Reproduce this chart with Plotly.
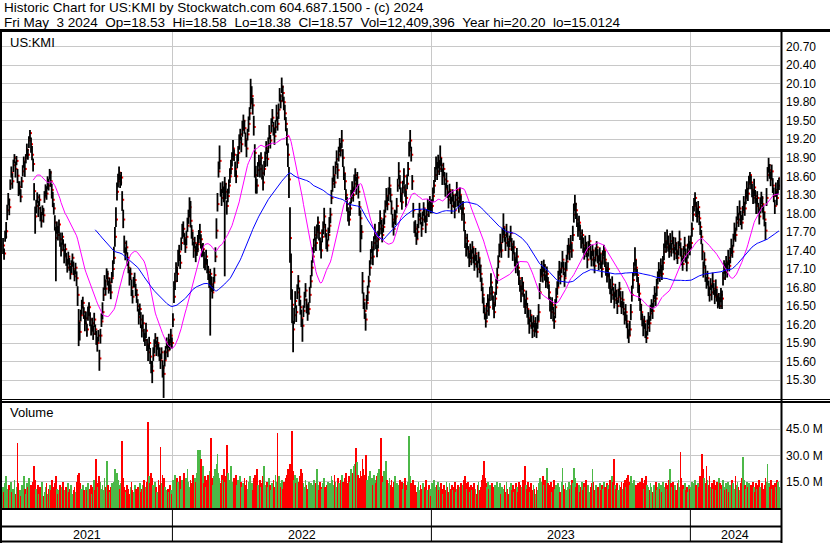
import numpy as np
import pandas as pd
import plotly.graph_objects as go

# ---------------- data (prices in cents, volume in millions of shares) ----------------
close_2021 = [1748,1735,1762,1771,1805,1822,1810,1848,1866,1852,
1878,1890,1872,1885,1861,1838,1843,1827,1852,1868,
1884,1872,1890,1903,1895,1918,1930,1912,1895,1880,
1836,1795,1812,1826,1808,1822,1800,1788,1805,1797,
1826,1840,1832,1851,1845,1866,1852,1838,1822,1808,
1785,1760,1778,1765,1782,1758,1740,1762,1748,1730,
1742,1725,1712,1730,1718,1702,1715,1728,1710,1698,
1712,1695,1668,1625,1608,1635,1648,1655,1640,1622,
1630,1612,1635,1648,1628,1610,1622,1605,1628,1612,
1598,1590,1602,1565,1602,1625,1640,1668,1690,1678,
1702,1695,1680,1688,1672,1695,1710,1728,1762,1790,
1835,1852,1866,1850,1858,1822,1790,1752,1735,1745,
1728,1712,1695,1702,1680,1665,1688,1692,1676,1668,
1650,1632,1645,1628,1610,1622,1605,1595,1610,1588,
1575,1590,1568,1552,1545,1570,1585,1598,1582,1590,
1580,1570,1562,1575,1550,1540,1562,1575,1590,1578,
1595,1588,1602,1590]
up_2021 = [12,8,10,15,9,11,14,7,10,13,
9,6,12,8,11,14,9,12,7,10,
8,12,6,10,9,7,5,11,14,9,
13,16,10,8,12,9,11,14,8,12,
10,7,12,9,11,6,17,10,13,9,
12,18,9,14,8,11,13,7,10,12,
9,11,14,8,10,13,9,7,12,10,
8,11,14,20,16,9,12,10,8,13,
11,9,14,8,12,10,9,13,11,8,
12,10,9,14,11,13,16,12,10,15,
9,12,11,8,13,10,14,18,16,20,
15,12,10,13,9,14,16,12,10,11,
9,12,14,10,13,11,9,12,10,8,
11,13,9,12,10,14,8,11,13,9,
12,10,14,9,16,13,11,8,12,10,
9,13,11,8,12,14,16,10,9,12,
10,8,11,9]
dn_2021 = [14,10,8,12,16,9,13,10,8,12,
11,9,14,7,12,10,13,9,11,8,
10,13,9,11,8,12,10,14,9,12,
15,28,12,9,14,10,13,11,8,12,
9,13,10,12,8,11,9,14,12,10,
13,70,11,9,14,12,10,13,9,11,
12,10,8,13,11,9,12,14,10,8,
11,13,18,40,14,10,12,9,11,13,
10,12,9,14,11,8,13,10,12,9,
11,14,10,20,13,9,12,10,14,11,
9,12,10,14,11,8,13,10,16,12,
14,10,12,9,13,18,14,16,11,10,
13,9,12,10,14,11,8,12,10,13,
9,12,10,14,11,9,13,10,12,11,
14,10,12,11,20,9,12,10,13,11,
12,9,14,11,16,39,10,12,9,11,
13,10,12,9]
vol_2021 = [12,9,14,18,11,8,13,10,15,9,
11,16,8,12,37,14,10,7,13,9,
18,11,8,14,12,17,10,13,9,15,
24,16,11,9,13,8,12,10,15,7,
9,12,14,8,11,13,10,16,9,12,
14,18,11,8,10,13,9,12,15,8,
10,12,7,14,9,11,13,8,10,12,
9,15,19,20,14,11,9,13,10,8,
12,10,14,9,11,13,8,12,16,10,
28,14,12,18,15,11,13,10,17,12,
27,13,10,9,12,14,11,15,22,18,
20,16,13,11,14,38,17,12,10,9,
13,11,8,12,15,10,9,13,11,8,
12,10,14,9,11,13,16,10,12,15,
49,18,14,20,17,13,11,15,12,9,
16,13,35,14,19,17,12,10,8,11,
9,13,10,8]

close_2022 = [1628,1665,1690,1712,1702,1725,1738,1720,1752,1768,
1775,1760,1745,1762,1780,1795,1810,1788,1772,1758,
1740,1752,1735,1742,1750,1762,1770,1758,1738,1742,
1725,1718,1730,1712,1705,1690,1702,1685,1672,1688,
1700,1730,1772,1815,1868,1885,1838,1825,1842,1830,
1848,1835,1812,1828,1845,1860,1872,1888,1905,1895,
1872,1860,1882,1898,1915,1928,1912,1935,1950,1938,
1920,1905,1928,1945,1962,1978,1990,1975,1940,1898,
1862,1845,1870,1885,1872,1890,1865,1850,1872,1890,
1905,1888,1912,1930,1918,1942,1955,1938,1925,1940,
1962,1945,1968,1990,1982,2005,1995,1980,1962,1945,
1925,1895,1855,1760,1705,1652,1612,1635,1658,1640,
1672,1690,1665,1648,1630,1618,1642,1660,1675,1652,
1638,1645,1668,1690,1712,1730,1748,1765,1752,1770,
1785,1768,1750,1740,1762,1778,1795,1772,1755,1748,
1765,1780,1798,1825,1848,1862,1850,1875,1888,1870,
1895,1912,1902,1918,1890,1865,1852,1830,1815,1800,
1790,1808,1825,1842,1830,1848,1862,1845,1858,1835,
1810,1792,1770,1690,1660,1642,1628,1655,1672,1690,
1712,1728,1745,1730,1752,1768,1755,1740,1758,1775,
1792,1780,1765,1778,1795,1812,1828,1815,1832,1845,
1830,1808,1790,1775,1792,1795,1812,1845,1868,1850,
1832,1818,1842,1860,1838,1825,1848,1872,1902,1918,
1895,1852,1805,1778,1775,1758,1770,1790,1805,1792,
1775,1790,1808,1795,1782,1798,1812,1805,1818,1810]
up_2022 = [10,25,14,9,12,16,11,13,9,15,
12,8,14,10,13,11,16,32,9,12,
14,10,12,9,15,11,13,8,12,10,
13,9,11,14,10,12,8,13,11,9,
12,15,20,18,16,25,12,14,10,13,
11,14,9,12,10,13,15,11,14,9,
12,10,14,11,13,9,12,15,10,13,
11,14,9,12,10,40,16,12,18,14,
15,11,13,10,12,9,14,11,13,10,
12,15,11,13,9,12,14,10,13,11,
14,12,10,13,11,15,12,9,14,11,
13,18,20,50,30,25,14,12,16,11,
13,10,15,12,14,11,9,13,12,10,
14,11,13,10,12,15,11,14,9,12,
10,13,11,15,12,9,14,11,13,10,
12,14,11,13,10,15,12,9,14,11,
13,10,12,17,14,11,13,9,12,10,
14,11,13,10,12,15,11,14,9,12,
10,13,11,15,12,14,10,13,11,9,
12,14,10,13,11,15,12,9,14,11,
13,10,12,14,11,9,13,12,10,14,
11,13,9,12,14,10,13,11,15,12,
10,14,11,13,9,12,15,11,14,17,
13,10,12,9,14,11,13,10,12,9,
11,13,10,12,14,9,11,13,10,12]
dn_2022 = [12,10,14,9,13,11,15,10,12,9,
13,11,9,14,10,12,16,11,13,10,
12,9,14,11,13,10,12,15,9,11,
14,10,12,9,13,11,100,12,10,14,
11,9,13,12,10,14,11,13,9,12,
150,12,14,10,13,11,9,12,15,10,
13,11,9,14,12,10,13,11,15,9,
12,14,10,13,11,9,12,15,14,40,
30,13,11,9,14,12,10,13,11,15,
9,12,14,10,13,11,9,12,14,10,
13,11,15,9,12,10,14,13,11,12,
15,20,30,40,45,30,37,14,12,16,
11,13,15,12,14,26,10,13,11,14,
12,9,13,11,14,10,12,9,13,11,
14,12,10,13,9,12,15,11,13,10,
9,12,14,10,13,11,9,12,10,14,
11,13,10,12,15,11,14,9,12,13,
10,12,9,14,11,13,10,15,12,11,
14,55,12,20,15,13,18,11,14,10,
13,11,9,14,12,10,13,11,15,12,
10,14,12,9,13,11,15,10,12,14,
12,10,13,11,9,14,12,10,13,11,
14,12,10,13,11,15,9,12,10,13,
11,14,12,10,13,9,12,14,11,10,
13,11,12,10,14,12,9,11,13,10]
vol_2022 = [16,14,19,12,17,15,13,18,11,16,
14,20,13,17,22,15,12,16,14,19,
13,17,15,20,33,32,33,28,16,24,
14,18,12,16,19,15,21,40,17,13,
18,22,25,31,20,17,14,19,16,22,
15,18,36,20,16,13,24,15,12,17,
14,19,13,16,11,18,15,12,14,17,
13,16,11,15,18,12,14,10,17,19,
15,22,13,11,16,12,14,18,24,13,
11,15,12,17,13,10,14,16,12,19,
15,43,18,14,12,16,11,15,13,17,
19,22,18,25,20,44,21,16,19,14,
17,13,15,18,22,20,14,12,16,13,
11,15,12,14,10,13,16,11,14,22,
13,10,15,12,11,14,17,12,10,13,
15,11,14,18,16,13,19,15,12,17,
14,11,16,19,15,13,17,20,14,12,
18,15,22,16,20,24,25,34,26,19,
17,21,18,28,22,19,30,16,14,18,
21,15,17,13,19,16,14,18,20,22,
17,40,18,15,21,19,27,16,14,17,
13,16,12,15,18,11,14,10,13,16,
12,15,11,14,17,13,10,15,41,18,
14,12,16,11,13,9,12,15,10,13,
11,14,9,12,16,10,8,13,11,7]

close_2023 = [1812,1828,1845,1862,1880,1868,1885,1872,1890,1878,
1860,1872,1855,1840,1852,1835,1822,1838,1825,1812,
1830,1818,1805,1822,1838,1825,1812,1830,1815,1800,
1808,1785,1760,1742,1755,1738,1722,1740,1728,1745,
1732,1718,1735,1722,1710,1728,1715,1702,1685,1668,
1650,1638,1625,1642,1660,1648,1670,1688,1672,1655,
1640,1662,1680,1700,1722,1738,1752,1740,1762,1778,
1765,1752,1770,1758,1742,1755,1768,1750,1735,1745,
1728,1715,1730,1712,1695,1682,1670,1688,1675,1660,
1648,1662,1645,1630,1618,1635,1622,1610,1625,1612,
1620,1608,1625,1640,1672,1698,1712,1700,1715,1705,
1690,1702,1688,1672,1655,1640,1652,1638,1625,1648,
1665,1680,1695,1710,1698,1712,1725,1710,1695,1708,
1722,1735,1748,1738,1752,1740,1765,1798,1815,1805,
1790,1772,1785,1768,1752,1765,1748,1735,1752,1740,
1725,1742,1755,1738,1725,1740,1728,1715,1732,1745,
1730,1718,1735,1722,1710,1728,1740,1725,1712,1698,
1710,1692,1680,1668,1685,1672,1660,1675,1662,1650,
1665,1678,1662,1648,1660,1645,1632,1640,1625,1610,
1602,1612,1640,1668,1692,1710,1725,1712,1700,1685,
1670,1652,1640,1628,1615,1625,1608,1598,1615,1630,
1622,1638,1650,1642,1658,1670,1662,1680,1695,1708,
1700,1715,1702,1720,1738,1755,1745,1762,1750,1738,
1755,1742,1760,1748,1735,1752,1740,1728,1745,1758,
1742,1730,1718,1735,1748,1732,1720,1738,1752,1745]
up_2023 = [11,14,9,13,12,15,10,14,20,12,
13,10,12,9,14,11,13,10,12,15,
9,12,14,10,13,11,9,12,14,10,
12,15,13,10,12,9,14,11,13,10,
12,14,9,11,13,10,12,15,11,13,
14,10,12,13,9,14,11,15,10,12,
13,11,14,12,10,13,15,11,14,22,
12,10,13,11,14,9,12,10,13,11,
9,12,14,10,13,11,12,9,14,10,
12,13,10,14,11,9,12,13,10,11,
12,14,10,13,15,12,11,14,10,13,
11,12,9,13,10,14,12,11,9,13,
14,10,12,13,11,9,14,12,10,13,
11,14,12,10,13,11,15,18,15,12,
10,13,11,14,12,9,13,10,12,14,
11,13,10,12,14,9,12,11,13,10,
12,14,10,13,11,12,9,14,10,13,
11,12,14,10,13,9,12,11,14,10,
13,11,12,10,14,12,9,13,11,12,
10,14,13,15,12,11,20,13,10,12,
14,11,13,10,12,9,14,11,13,10,
12,14,11,13,10,12,9,14,11,13,
10,12,14,11,13,15,10,12,14,11,
13,10,12,14,11,9,13,12,10,14,
11,13,10,12,14,11,9,13,12,10]
dn_2023 = [12,10,13,11,9,14,12,10,13,11,
14,12,9,13,11,10,14,12,10,13,
11,9,13,12,10,14,11,13,9,12,
10,14,16,12,13,11,9,14,12,10,
13,11,12,10,14,9,12,13,11,14,
12,10,10,13,11,14,12,9,13,11,
10,13,12,14,11,9,13,12,10,14,
11,13,9,12,14,10,13,11,12,10,
14,12,10,13,11,9,14,12,10,13,
11,12,14,10,13,11,9,12,10,12,
13,10,12,14,11,9,13,12,10,14,
11,13,10,12,14,11,9,13,12,18,
10,12,14,11,13,9,12,10,14,11,
13,10,12,14,11,12,10,13,11,14,
12,10,13,11,9,14,12,10,13,11,
14,12,10,13,11,9,14,12,10,13,
11,10,13,12,14,11,9,12,13,10,
12,14,11,13,10,12,14,11,9,13,
10,12,14,11,13,10,12,14,11,13,
12,10,13,11,14,12,10,13,11,14,
12,10,13,11,14,12,10,8,13,11,
14,12,10,13,11,9,12,14,10,13,
11,13,10,12,14,11,9,13,12,10,
14,12,10,13,11,12,14,10,13,11,
12,14,11,13,10,12,14,11,9,13]
vol_2023 = [14,11,16,12,9,13,15,10,12,14,
11,8,13,10,15,12,9,14,11,13,
10,12,15,9,11,13,8,12,14,10,
13,16,18,14,11,15,12,9,13,10,
12,14,11,8,13,15,10,12,16,19,
27,17,14,12,15,11,13,10,14,12,
9,13,11,15,12,10,14,8,12,11,
13,9,15,11,8,12,14,10,13,9,
11,14,12,9,15,13,10,12,16,14,
24,13,11,15,12,9,14,10,13,11,
8,12,10,14,17,15,12,18,13,16,
11,23,14,10,13,15,9,12,16,11,
13,10,14,12,9,15,23,13,11,14,
10,12,15,11,13,16,14,23,17,12,
14,11,13,9,12,15,10,14,12,16,
11,13,9,12,14,22,15,10,13,11,
12,9,14,10,13,11,15,12,8,14,
13,11,16,14,18,15,28,13,11,14,
10,13,12,15,11,14,16,12,17,19,
15,13,18,14,12,16,11,13,10,14,
12,15,13,17,14,11,16,18,13,12,
10,14,12,9,13,11,15,10,12,14,
11,13,9,15,12,10,14,11,13,16,
22,14,12,15,11,13,10,14,16,12,
32,17,13,11,14,10,12,9,13,11]

close_2024 = [1752,1775,1798,1812,1825,1808,1795,1810,1792,1778,
1762,1738,1712,1725,1702,1688,1695,1680,1668,1685,
1672,1690,1678,1665,1680,1668,1655,1662,1650,1668,
1662,1695,1712,1705,1722,1710,1728,1715,1732,1745,
1738,1758,1772,1765,1785,1798,1790,1808,1795,1785,
1802,1815,1808,1825,1840,1832,1848,1862,1850,1838,
1825,1842,1828,1812,1825,1808,1795,1812,1825,1815,
1802,1790,1772,1825,1862,1878,1870,1855,1868,1845,
1828,1812,1838,1825,1845,1857]
up_2024 = [12,10,14,13,9,11,13,10,12,9,
11,13,10,12,14,9,12,11,13,10,
12,14,9,11,13,10,12,9,14,11,
13,10,12,14,9,11,13,10,12,14,
11,9,13,12,10,14,11,13,9,12,
10,13,11,14,12,9,13,5,11,10,
12,14,10,13,11,9,12,14,10,13,
11,12,14,16,13,12,10,13,11,12,
14,10,12,11,9,1]
dn_2024 = [10,13,11,9,12,14,10,12,11,13,
12,14,16,11,13,10,12,14,11,9,
13,11,10,12,14,11,9,13,5,12,
17,12,10,13,11,14,12,9,13,11,
10,12,14,11,13,9,12,10,14,11,
13,11,12,10,14,12,9,13,11,12,
10,14,12,13,11,9,13,12,10,14,
12,11,15,13,10,12,14,11,13,12,
10,13,11,12,14,19]
vol_2024 = [12,15,11,14,16,13,10,14,12,18,
15,31,22,17,14,24,16,13,18,12,
14,11,16,13,10,15,12,17,14,11,
13,16,12,10,14,11,15,9,13,12,
16,14,11,18,13,15,12,10,14,17,
29,16,13,11,15,12,14,10,13,11,
15,12,9,14,11,13,16,12,10,14,
11,13,17,15,25,14,12,16,11,13,
10,14,12,16,15,12]

years = ["2021", "2022", "2023", "2024"]
ticker = "US:KMI"
last_day = "Fri May  3 2024"
last_open, last_high, last_low, last_close = 18.53, 18.58, 18.38, 18.57
last_volume = "12,409,396"
range_hi, range_lo = "20.20", "15.0124"
price_ticks = [15.30, 15.60, 15.90, 16.20, 16.50, 16.80, 17.10, 17.40, 17.70,
               18.00, 18.30, 18.60, 18.90, 19.20, 19.50, 19.80, 20.10, 20.40, 20.70]
vol_ticks = [15, 30, 45]
vol_tick_text = ["15.0 M", "30.0 M", "45.0 M"]
ma_fast, ma_slow = 30, 90

# ---------------- assemble ----------------
segs = [(close_2021, up_2021, dn_2021, vol_2021),
        (close_2022, up_2022, dn_2022, vol_2022),
        (close_2023, up_2023, dn_2023, vol_2023),
        (close_2024, up_2024, dn_2024, vol_2024)]
seg_len = [min(len(a) for a in s) for s in segs]
close = np.concatenate([np.array(s[0][:n], float) for s, n in zip(segs, seg_len)]) / 100.0
up = np.concatenate([np.array(s[1][:n], float) for s, n in zip(segs, seg_len)]) / 100.0
dn = np.concatenate([np.array(s[2][:n], float) for s, n in zip(segs, seg_len)]) / 100.0
vol = np.concatenate([np.array(s[3][:n], float) for s, n in zip(segs, seg_len)])
high = close + up
low = close - dn
N = len(close)
xi = np.arange(N)

cum = np.cumsum(seg_len)
bounds = [c - 0.5 for c in cum[:-1]]
starts = [-1] + bounds
ends = bounds + [N]
centers = [(a + b) / 2 for a, b in zip(starts, ends)]

ma1 = pd.Series(close).rolling(ma_fast).mean()
ma2 = pd.Series(close).rolling(ma_slow).mean()

bx, by = [], []
for i in range(N):
    bx += [i, i, None]
    by += [low[i], high[i], None]

RED = "#ff0000"
GREEN = "#4cb848"
GREY = "#a0a0a0"
vcol = [GREEN]
for i in range(1, N):
    if close[i] < close[i - 1]:
        vcol.append(RED)
    elif close[i] > close[i - 1]:
        vcol.append(GREEN)
    else:
        vcol.append(GREY)

W, H = 830, 543
def PX(p): return p / W
def PY(p): return 1 - p / H

FONT = "Liberation Sans, Arial, sans-serif"
GRID = "#c8c8c8"

fig = go.Figure()
fig.add_trace(go.Scatter(x=xi + 1, y=close, mode="markers",
                         marker=dict(color=RED, size=2, symbol="square", line=dict(width=0)),
                         hoverinfo="skip", xaxis="x", yaxis="y"))
fig.add_trace(go.Scatter(x=bx, y=by, mode="lines", line=dict(color="black", width=1.8),
                         hoverinfo="skip", connectgaps=False, xaxis="x", yaxis="y"))
fig.add_trace(go.Scatter(x=xi, y=ma1, mode="lines", line=dict(color="#ff00ff", width=1),
                         hoverinfo="skip", xaxis="x", yaxis="y"))
fig.add_trace(go.Scatter(x=xi, y=ma2, mode="lines", line=dict(color="#0000ff", width=1),
                         hoverinfo="skip", xaxis="x", yaxis="y"))
fig.add_trace(go.Bar(x=xi, y=vol, marker=dict(color=vcol, line=dict(width=0)), width=0.8,
                     hoverinfo="skip", xaxis="x2", yaxis="y2"))

xdom = [PX(2), PX(780)]
xcommon = dict(domain=xdom, range=[-1, N], tickvals=bounds, showticklabels=False, ticks="",
               showgrid=True, gridcolor=GRID, gridwidth=1, zeroline=False, showline=False,
               fixedrange=True)

shapes = []
def hline(py, x0, x1, w):
    shapes.append(dict(type="line", xref="paper", yref="paper", x0=PX(x0), x1=PX(x1),
                       y0=PY(py), y1=PY(py), line=dict(color="black", width=w)))
def vline(px, y0, y1, w):
    shapes.append(dict(type="line", xref="paper", yref="paper", x0=PX(px), x1=PX(px),
                       y0=PY(y0), y1=PY(y1), line=dict(color="black", width=w)))
hline(30.5, 0, 830, 3)
hline(399.5, 0, 830, 1)
hline(402, 0, 830, 2)
hline(509, 0, 782, 2)
hline(526.5, 0, 782, 2)
hline(541.5, 0, 782, 2)
vline(1, 30, 543, 2)
vline(781.5, 30, 543, 2)
for b in bounds:
    shapes.append(dict(type="line", xref="x2", yref="paper", x0=b, x1=b,
                       y0=PY(509), y1=PY(542), line=dict(color="black", width=1)))

header1 = "Historic Chart for US:KMI by Stockwatch.com 604.687.1500 - (c) 2024"
header2 = (f"{last_day}  Op={last_open:.2f}  Hi={last_high:.2f}  Lo={last_low:.2f}  "
           f"Cl={last_close:.2f}  Vol={last_volume}  Year hi={range_hi}  lo={range_lo}")
header2 = header2.replace("  ", " \u00a0")

ann = [
    dict(text=header1, x=PX(2), y=PY(8), xref="paper", yref="paper", xanchor="left",
         yanchor="middle", showarrow=False, font=dict(size=13.5, color="black", family=FONT)),
    dict(text=header2, x=PX(2), y=PY(22), xref="paper", yref="paper", xanchor="left",
         yanchor="middle", showarrow=False, font=dict(size=13.5, color="black", family=FONT)),
    dict(text=ticker, x=PX(8), y=PY(42), xref="paper", yref="paper", xanchor="left",
         yanchor="middle", showarrow=False, font=dict(size=13, color="black", family=FONT)),
    dict(text="Volume", x=PX(8), y=PY(413), xref="paper", yref="paper", xanchor="left",
         yanchor="middle", showarrow=False, font=dict(size=13, color="black", family=FONT)),
]
for yr, c in zip(years, centers):
    ann.append(dict(text=yr, x=c, y=PY(535), xref="x2", yref="paper", xanchor="center",
                    yanchor="middle", showarrow=False,
                    font=dict(size=12.5, color="black", family=FONT)))

fig.update_layout(
    width=W, height=H, margin=dict(l=0, r=0, t=0, b=0),
    paper_bgcolor="white", plot_bgcolor="white", showlegend=False,
    font=dict(family=FONT, color="black", size=12),
    hovermode=False, bargap=0,
    xaxis=dict(anchor="y", **xcommon),
    xaxis2=dict(anchor="y2", **xcommon),
    yaxis=dict(domain=[PY(399), PY(31)], range=[14.993, 20.954], side="right", anchor="x",
               tickvals=price_ticks, tickformat=".2f", showgrid=True, gridcolor=GRID,
               zeroline=False, showline=False, ticks="", ticklabelstandoff=5,
               tickfont=dict(size=12, color="black", family=FONT), fixedrange=True),
    yaxis2=dict(domain=[PY(509), PY(402)], range=[-0.57, 60.46], side="right", anchor="x2",
                tickvals=vol_ticks, ticktext=vol_tick_text, showgrid=True, gridcolor=GRID,
                zeroline=False, showline=False, ticks="", ticklabelstandoff=5,
                tickfont=dict(size=12, color="black", family=FONT), fixedrange=True),
    shapes=shapes, annotations=ann,
)

fig.write_html("out.html", config={"displayModeBar": False},
               post_script="document.body.style.margin='0px';document.body.style.overflow='hidden';")
